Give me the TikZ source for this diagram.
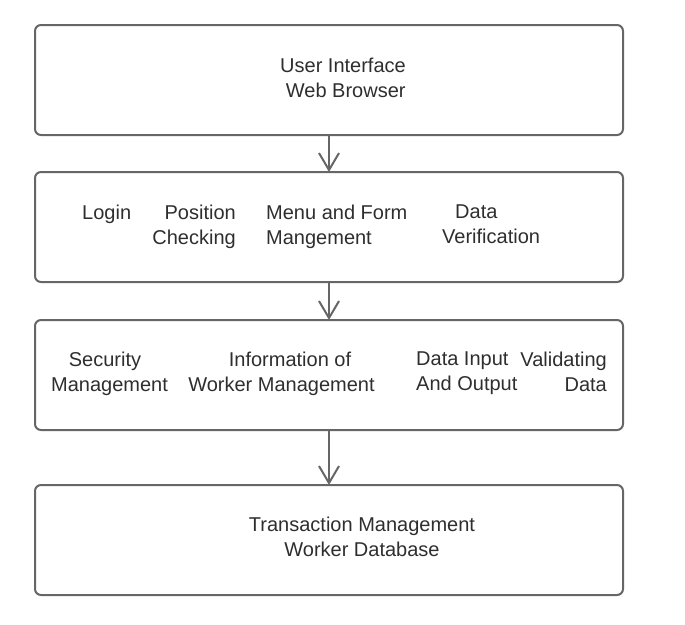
\documentclass[tikz,border=0pt]{standalone}
\usepackage{fontspec}
\setmainfont{Liberation Sans}
\usepackage{xcolor}
\usetikzlibrary{arrows.meta, positioning}
\definecolor{linegray}{HTML}{666666}
\definecolor{textgray}{HTML}{2E2E2E}

\begin{document}
\begin{tikzpicture}[x=1pt, y=-1pt, node distance=37pt, font=\fontsize{20}{25}\selectfont]
    % Define styles
    \tikzstyle{layer} = [draw=linegray, line width=2pt, rounded corners=6pt, rectangle, minimum width=588pt, minimum height=110pt, inner sep=0pt, outer sep=0pt]
    \tikzstyle{txt} = [text=textgray, inner sep=0pt]
    \tikzstyle{flow} = [-{Straight Barb[length=17pt, width=20pt]}, line width=2pt, draw=linegray]

    \useasboundingbox (0,0) rectangle (685,624);

    % LAYERS
    \node (ui_layer) [layer] at (329,80) {};
    \node (app_layer) [layer, below=of ui_layer] {};
    \node (logic_layer) [layer, below=38pt of app_layer] {};
    \node (data_layer) [layer, below=55pt of logic_layer] {};

    % User interface
    \node (ui_text) [txt, align=center, anchor=north] at (343,57.5) {User Interface\\\hspace*{5.5pt}Web Browser};

    % Application
    \node (login_text) [txt, anchor=north west] at (82,205) {Login};
    \node (position_text) [txt, align=right, anchor=north east] at (236,205) {Position\\Checking};
    \node (menu_text) [txt, align=left, anchor=north west] at (266,205) {Menu and Form\\Mangement};
    \node (verify_text) [txt, align=left, anchor=north west] at (442,205) {\hspace*{13pt}Data\\Verification};

    % Logic
    \node (security_text) [txt, align=center, anchor=north] at (109.5,352) {Security\hspace*{9pt}\\Management};
    \node (worker_text) [txt, align=center, anchor=north] at (281.5,352) {\hspace*{17pt}Information of\\Worker Management};
    \node (io_text) [txt, align=left, anchor=north west] at (416,352) {Data Input\\And Output};
    \node (valid_text) [txt, align=right, anchor=north east] at (607,352) {Validating\\Data};

    % Database
    \node (db_text) [txt, align=center, anchor=north] at (362,517) {Transaction Management\\Worker Database};

    % CONNECTIONS
    \draw[flow] (ui_layer) -- (app_layer);
    \draw[flow] (app_layer) -- (logic_layer);
    \draw[flow] (logic_layer) -- (data_layer);

\end{tikzpicture}
\end{document}
